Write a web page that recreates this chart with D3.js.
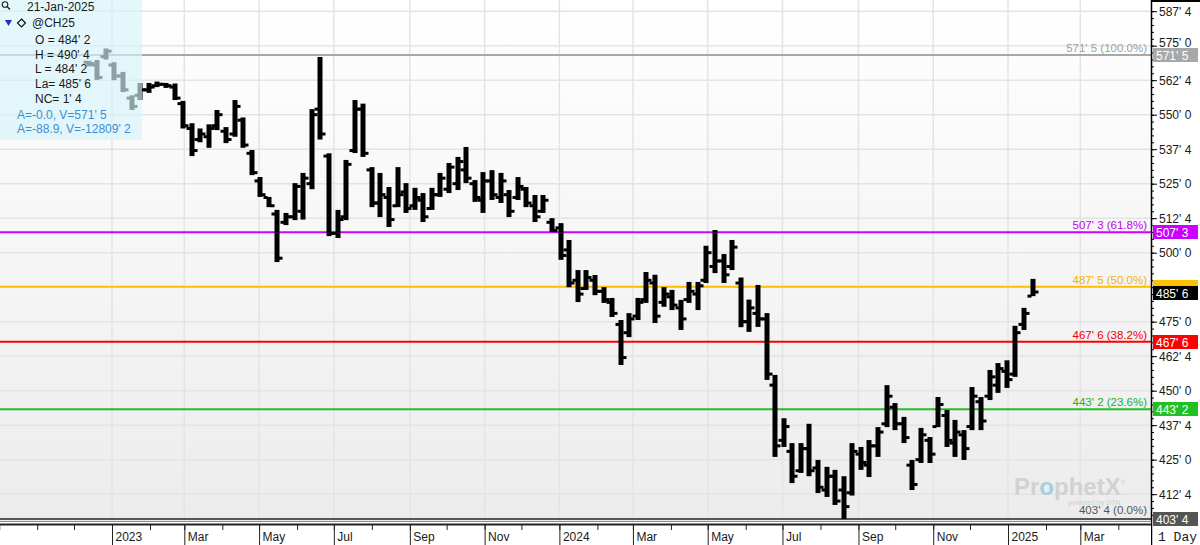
<!DOCTYPE html>
<html>
<head>
<meta charset="utf-8">
<script src="https://cdn.jsdelivr.net/npm/d3@7"></script>
<style>
body { margin: 0; background: #fff; }
svg { display: block; font-family: "Liberation Sans", Arial, sans-serif; }
</style>
</head>
<body>
<div id="chart"></div>
<script>
// @CH25 weekly bars, week starting Monday
var weeks = [
  "2022-12-12", "2022-12-19", "2022-12-26",
  "2023-01-02", "2023-01-09", "2023-01-16", "2023-01-23", "2023-01-30", "2023-02-06", "2023-02-13",
  "2023-02-20", "2023-02-27", "2023-03-06", "2023-03-13", "2023-03-20", "2023-03-27", "2023-04-03",
  "2023-04-10", "2023-04-17", "2023-04-24", "2023-05-01", "2023-05-08", "2023-05-15", "2023-05-22",
  "2023-05-29", "2023-06-05", "2023-06-12", "2023-06-19", "2023-06-26", "2023-07-03", "2023-07-10",
  "2023-07-17", "2023-07-24", "2023-07-31", "2023-08-07", "2023-08-14", "2023-08-21", "2023-08-28",
  "2023-09-04", "2023-09-11", "2023-09-18", "2023-09-25", "2023-10-02", "2023-10-09", "2023-10-16",
  "2023-10-23", "2023-10-30", "2023-11-06", "2023-11-13", "2023-11-20", "2023-11-27", "2023-12-04",
  "2023-12-11", "2023-12-18", "2023-12-25",
  "2024-01-01", "2024-01-08", "2024-01-15", "2024-01-22", "2024-01-29", "2024-02-05", "2024-02-12",
  "2024-02-19", "2024-02-26", "2024-03-04", "2024-03-11", "2024-03-18", "2024-03-25", "2024-04-01",
  "2024-04-08", "2024-04-15", "2024-04-22", "2024-04-29", "2024-05-06", "2024-05-13", "2024-05-20",
  "2024-05-27", "2024-06-03", "2024-06-10", "2024-06-17", "2024-06-24", "2024-07-01", "2024-07-08",
  "2024-07-15", "2024-07-22", "2024-07-29", "2024-08-05", "2024-08-12", "2024-08-19", "2024-08-26",
  "2024-09-02", "2024-09-09", "2024-09-16", "2024-09-23", "2024-09-30", "2024-10-07", "2024-10-14",
  "2024-10-21", "2024-10-28", "2024-11-04", "2024-11-11", "2024-11-18", "2024-11-25", "2024-12-02",
  "2024-12-09", "2024-12-16", "2024-12-23", "2024-12-30",
  "2025-01-06", "2025-01-13", "2025-01-20"
];

var opens = [
  569, 568, 571, 568, 564, 556, 557, 559, 560.5, 561,
  560, 554, 545, 541, 542, 546, 544, 543, 548, 536,
  526, 520, 514, 511, 513, 515, 525, 552, 535, 507,
  513, 537, 552, 530, 518, 520, 517, 522, 517, 519,
  516, 521, 523, 525, 530, 525, 519, 526, 520, 521,
  520, 523, 517, 515, 511, 509, 501, 490, 487, 490,
  486, 482, 474, 471, 477, 483, 489, 482, 484, 480,
  483, 485, 490, 495, 497, 495, 489, 475, 478, 476,
  452, 432, 428, 421, 429, 422, 414, 419, 414, 413,
  427, 423, 430, 438, 444, 438, 423, 425, 432, 437,
  441, 431, 434, 437, 446, 448, 452, 457, 456, 474,
  484.25
];

var highs = [
  569.5, 569.8, 574.0, 569.0, 565.5, 557.0, 561.5, 561.5, 562.0, 561.5,
  561.3, 555.0, 546.9, 545.0, 546.5, 551.7, 545.5, 555.3, 549.0, 537.2,
  527.4, 520.2, 515.5, 514.4, 525.2, 528.9, 552.0, 570.9, 536.0, 515.5,
  533.6, 555.3, 554.0, 531.0, 528.9, 523.8, 531.0, 525.2, 523.5, 521.6,
  523.5, 528.9, 532.5, 534.7, 538.3, 526.3, 529.2, 529.9, 528.9, 522.7,
  527.4, 523.8, 520.9, 520.9, 512.5, 510.7, 504.6, 493.7, 493.7, 491.9,
  487.5, 483.6, 475.6, 478.1, 483.6, 493.0, 492.0, 487.5, 486.5, 482.9,
  489.4, 489.4, 502.5, 508.2, 499.5, 504.6, 491.0, 483.0, 488.3, 478.1,
  455.7, 440.0, 431.0, 431.0, 438.0, 424.9, 422.4, 421.3, 419.0, 431.0,
  429.6, 432.1, 436.8, 452.0, 445.5, 440.5, 424.9, 436.5, 433.2, 447.7,
  443.0, 439.4, 435.7, 451.3, 447.7, 457.5, 460.0, 461.0, 473.5, 480.0,
  490.5
];

var lows = [
  567.5, 562.6, 570.0, 562.5, 558.2, 551.7, 555.3, 557.9, 560.0, 559.7,
  555.3, 545.0, 535.0, 540.0, 538.0, 544.4, 539.7, 542.0, 538.0, 528.1,
  520.2, 516.5, 496.6, 510.0, 511.8, 512.0, 523.0, 541.0, 506.0, 505.3,
  511.8, 536.1, 534.7, 516.5, 512.9, 509.3, 516.5, 514.4, 515.5, 511.1,
  515.5, 520.2, 521.6, 522.7, 525.2, 518.4, 514.4, 519.1, 518.0, 512.9,
  519.1, 516.5, 511.1, 514.4, 507.5, 497.4, 487.5, 482.1, 486.5, 484.6,
  481.8, 476.7, 459.3, 469.4, 475.6, 481.8, 474.5, 480.4, 479.2, 472.0,
  481.8, 479.2, 489.0, 492.6, 489.0, 493.7, 473.0, 471.3, 473.1, 453.9,
  426.0, 429.6, 416.5, 420.2, 419.0, 412.9, 411.5, 408.6, 403.5, 412.0,
  421.3, 418.7, 426.0, 436.8, 435.7, 431.0, 414.0, 423.8, 423.8, 436.8,
  429.6, 426.0, 424.9, 435.7, 435.7, 446.6, 449.2, 451.0, 455.0, 472.0,
  484.25
];

var closes = [
  568.5, 563.5, 573, 564, 559, 553, 559, 560, 561, 560.5,
  556, 546, 537, 543, 545, 550, 541, 553, 539, 529,
  521, 517, 498, 513, 524, 527, 550, 543, 507, 512,
  532, 552, 536, 518, 521, 512, 521, 516, 520, 513,
  521, 527, 531, 533, 527, 520, 526, 521, 526, 515,
  524, 518, 513, 519, 508, 499, 489, 485, 491, 486,
  483, 478, 462, 476, 482, 490, 477, 485, 481, 476,
  486, 488, 500, 497, 492, 502, 475, 480, 476, 456,
  430, 437, 419, 429, 421, 415, 419, 410, 408, 428,
  424, 430, 435, 448, 438, 433, 416, 434, 427, 445,
  432, 435, 429, 448, 439, 455, 458, 454, 471, 478,
  485.75
];

// Fibonacci retracement levels
var fibPct = ["100.0%", "61.8%", "50.0%", "38.2%", "23.6%", "0.0%"];
var fibVal = [571.625, 507.375, 487.625, 467.75, 443.25, 403.5];
var fibLine = ["#a8a8a8", "#cc00ff", "#ffc000", "#ff0000", "#22c022", "#555555"];
var fibTxt = ["#a0a0a0", "#c000f0", "#f0b400", "#f00000", "#20b020", "#555555"];

var lastPrice = 485.75;
var yTicks = [412.5, 425, 437.5, 450, 462.5, 475, 487.5, 500, 512.5, 525, 537.5, 550, 562.5, 575, 587.5];
var yHidden = [487.5]; // label sits under the last-price box

var infoDate = "21-Jan-2025";
var infoSymbol = "@CH25";
var infoLines = ["O = 484' 2", "H = 490' 4", "L = 484' 2", "La= 485' 6", "NC= 1' 4"];
var infoBlue = ["A=-0.0, V=571' 5", "A=-88.9, V=-12809' 2"];

// setup
var svgWidth = 1200, svgHeight = 545;
var plotRight = 1151, plotBottom = 521;

var svg = d3.select("#chart").append("svg")
    .attr("width", svgWidth).attr("height", svgHeight);

var parse = d3.timeParse("%Y-%m-%d");
var x = d3.scaleTime()
    .domain([new Date(2023, 0, 1), new Date(2025, 0, 1)])
    .range([112, 1008]);
var y = d3.scaleLinear().domain([403.5, 571.625]).range([519, 55]);

function fmt(v) {
    var w = Math.floor(v);
    return w + "' " + Math.round((v - w) * 8);
}

var defs = svg.append("defs");
var grad = defs.append("linearGradient").attr("id", "bg")
    .attr("x1", 0).attr("y1", 0).attr("x2", 0).attr("y2", 1);
grad.append("stop").attr("offset", "0%").attr("stop-color", "#ffffff");
grad.append("stop").attr("offset", "100%").attr("stop-color", "#ececec");
defs.append("clipPath").attr("id", "plotclip")
    .append("rect").attr("x", 0).attr("y", 0).attr("width", plotRight).attr("height", plotBottom);

svg.append("rect").attr("x", 0).attr("y", 0)
    .attr("width", plotRight).attr("height", plotBottom).attr("fill", "url(#bg)");

// grid
var months = d3.timeMonth.range(new Date(2022, 9, 1), new Date(2025, 4, 1));
var labelled = months.filter(function(d) { return d >= new Date(2023, 0, 1) && d.getMonth() % 2 === 0; });

var grid = svg.append("g").attr("clip-path", "url(#plotclip)");
grid.selectAll(".hg").data(yTicks).enter().append("line")
    .attr("x1", 0).attr("x2", plotRight)
    .attr("y1", function(d) { return y(d); }).attr("y2", function(d) { return y(d); })
    .attr("stroke", "#e4e4e4").attr("stroke-width", 1.5);
grid.selectAll(".vg").data(labelled).enter().append("line")
    .attr("x1", function(d) { return x(d); }).attr("x2", function(d) { return x(d); })
    .attr("y1", 0).attr("y2", plotBottom)
    .attr("stroke", "#e4e4e4").attr("stroke-width", 1.5);

// fib lines
var fib = svg.append("g").attr("clip-path", "url(#plotclip)");
fibVal.forEach(function(v, i) {
    fib.append("line").attr("x1", 0).attr("x2", plotRight)
        .attr("y1", y(v)).attr("y2", y(v))
        .attr("stroke", fibLine[i]).attr("stroke-width", 2);
});

// price bars
var bars = svg.append("g").attr("clip-path", "url(#plotclip)");
weeks.forEach(function(w, i) {
    var cx = Math.round(x(d3.timeDay.offset(parse(w), 1)));
    var top = y(highs[i]), bot = y(lows[i]);
    bars.append("rect").attr("x", cx - 2.5).attr("y", top)
        .attr("width", 5).attr("height", Math.max(2, bot - top)).attr("fill", "#000");
    bars.append("rect").attr("x", cx - 5.5).attr("y", y(opens[i]) - 1.5)
        .attr("width", 4).attr("height", 3).attr("fill", "#000");
    bars.append("rect").attr("x", cx + 1.5).attr("y", y(closes[i]) - 1.5)
        .attr("width", 4).attr("height", 3).attr("fill", "#000");
});

// fib labels
fibVal.forEach(function(v, i) {
    var ty = i === 5 ? y(v) - 5 : y(v) - 3;
    svg.append("text").attr("x", 1147).attr("y", ty)
        .attr("text-anchor", "end").attr("font-size", "11.5px")
        .attr("fill", fibTxt[i]).text(fmt(v) + " (" + fibPct[i] + ")");
});

// watermark
var wm = svg.append("text").attr("x", 1014).attr("y", 495)
    .attr("font-size", "24px").attr("font-weight", "bold").attr("fill", "#d2d2d2");
wm.append("tspan").text("Pr");
wm.append("tspan").attr("fill", "#a3cfe2").text("o");
wm.append("tspan").text("phetX");
svg.append("text").attr("x", 1121).attr("y", 484).attr("font-size", "6px")
    .attr("fill", "#cfcfcf").text("®");
svg.append("text").attr("x", 1068).attr("y", 505).attr("font-size", "7px")
    .attr("fill", "#d0d0d0").text("powered by DTN");

// info panel
svg.append("rect").attr("x", 0).attr("y", 0).attr("width", 142).attr("height", 140)
    .attr("fill", "rgb(214,245,250)").attr("opacity", 0.66);
var info = svg.append("g").attr("font-size", "12px").attr("fill", "#1a1a1a");
info.append("circle").attr("cx", 5).attr("cy", 4.5).attr("r", 2.8)
    .attr("fill", "none").attr("stroke", "#222").attr("stroke-width", 1.1);
info.append("line").attr("x1", 7).attr("y1", 6.5).attr("x2", 10).attr("y2", 9.5)
    .attr("stroke", "#222").attr("stroke-width", 1.4);
info.append("text").attr("x", 27).attr("y", 11).text(infoDate);
info.append("path").attr("d", "M5,20L12,20L8.5,26Z").attr("fill", "#1d2fbf");
info.append("path").attr("d", "M21.5,19L25.5,23L21.5,27L17.5,23Z")
    .attr("fill", "none").attr("stroke", "#111").attr("stroke-width", 1.2);
info.append("text").attr("x", 32).attr("y", 27).text(infoSymbol);
var infoY = [44, 58.5, 73, 88, 103];
infoLines.forEach(function(t, i) {
    info.append("text").attr("x", 35).attr("y", infoY[i]).text(t);
});
infoBlue.forEach(function(t, i) {
    info.append("text").attr("x", 17).attr("y", 119 + i * 13.5).attr("fill", "#3b8ed6").text(t);
});

// right axis
svg.append("rect").attr("x", plotRight).attr("y", 0).attr("width", svgWidth - plotRight)
    .attr("height", svgHeight).attr("fill", "#fff");
var minorY = d3.range(405, 590, 2.5);
svg.append("g").attr("transform", "translate(" + plotRight + ",0)")
    .call(d3.axisRight(y).tickValues(minorY).tickSize(3).tickFormat(""))
    .call(function(g) { g.select(".domain").remove(); });
svg.append("g").attr("transform", "translate(" + plotRight + ",0)")
    .call(d3.axisRight(y).tickValues(yTicks).tickSize(6)
        .tickFormat(function(d) { return yHidden.indexOf(d) >= 0 ? "" : fmt(d); }))
    .call(function(g) {
        g.select(".domain").remove();
        g.selectAll("text").attr("font-size", "12px").attr("fill", "#1a1a1a")
            .attr("font-family", "Liberation Sans, Arial, sans-serif").attr("x", 8)
            .attr("dy", function(d) { return d === 575 ? "0.1em" : "0.32em"; });
    });
svg.append("line").attr("x1", plotRight + 0.5).attr("x2", plotRight + 0.5)
    .attr("y1", 0).attr("y2", svgHeight).attr("stroke", "#000").attr("stroke-width", 1.5);
svg.append("rect").attr("x", plotRight).attr("y", 0).attr("width", svgWidth - plotRight)
    .attr("height", 2).attr("fill", "#000");

// level boxes on axis
fibVal.forEach(function(v, i) {
    var by = Math.round(y(v));
    svg.append("rect").attr("x", 1153).attr("y", by - 7).attr("width", 45).attr("height", 14)
        .attr("fill", fibLine[i]);
    if (i !== 2) {
        svg.append("text").attr("x", 1156).attr("y", by + 4.5).attr("font-size", "12px")
            .attr("fill", "#fff").text(fmt(v));
    }
});
var ly = Math.round(y(lastPrice)) + 1;
svg.append("rect").attr("x", 1153).attr("y", ly - 7).attr("width", 45).attr("height", 14)
    .attr("fill", "#000");
svg.append("text").attr("x", 1156).attr("y", ly + 4.5).attr("font-size", "12px")
    .attr("fill", "#fff").text(fmt(lastPrice));

// bottom axis
svg.append("rect").attr("x", 0).attr("y", plotBottom).attr("width", plotRight)
    .attr("height", svgHeight - plotBottom).attr("fill", "#fff");
svg.append("line").attr("x1", 0).attr("x2", plotRight).attr("y1", plotBottom + 0.5).attr("y2", plotBottom + 0.5)
    .attr("stroke", "#8a8a8a").attr("stroke-width", 1);
svg.append("line").attr("x1", 0).attr("x2", plotRight).attr("y1", 524.5).attr("y2", 524.5)
    .attr("stroke", "#222").attr("stroke-width", 2);
svg.append("g").attr("transform", "translate(0,525)")
    .call(d3.axisBottom(x).tickValues(months).tickSize(5).tickFormat(""))
    .call(function(g) { g.select(".domain").remove(); g.selectAll("line").attr("stroke", "#222"); });
svg.append("g").attr("transform", "translate(0,525)")
    .call(d3.axisBottom(x).tickValues(labelled).tickSize(21)
        .tickFormat(function(d) { return d.getMonth() === 0 ? d3.timeFormat("%Y")(d) : d3.timeFormat("%b")(d); }))
    .call(function(g) {
        g.select(".domain").remove();
        g.selectAll("line").attr("stroke", "#222");
        g.selectAll("text").attr("text-anchor", "start").attr("x", 3).attr("y", 16).attr("dy", 0)
            .attr("font-size", "12px").attr("fill", "#1a1a1a")
            .attr("font-family", "Liberation Sans, Arial, sans-serif");
    });
svg.append("text").attr("x", 1158).attr("y", 541).attr("font-size", "13px")
    .attr("font-family", "Liberation Mono, DejaVu Sans Mono, monospace")
    .attr("fill", "#1a1a1a").text("1 Day");
</script>
</body>
</html>
